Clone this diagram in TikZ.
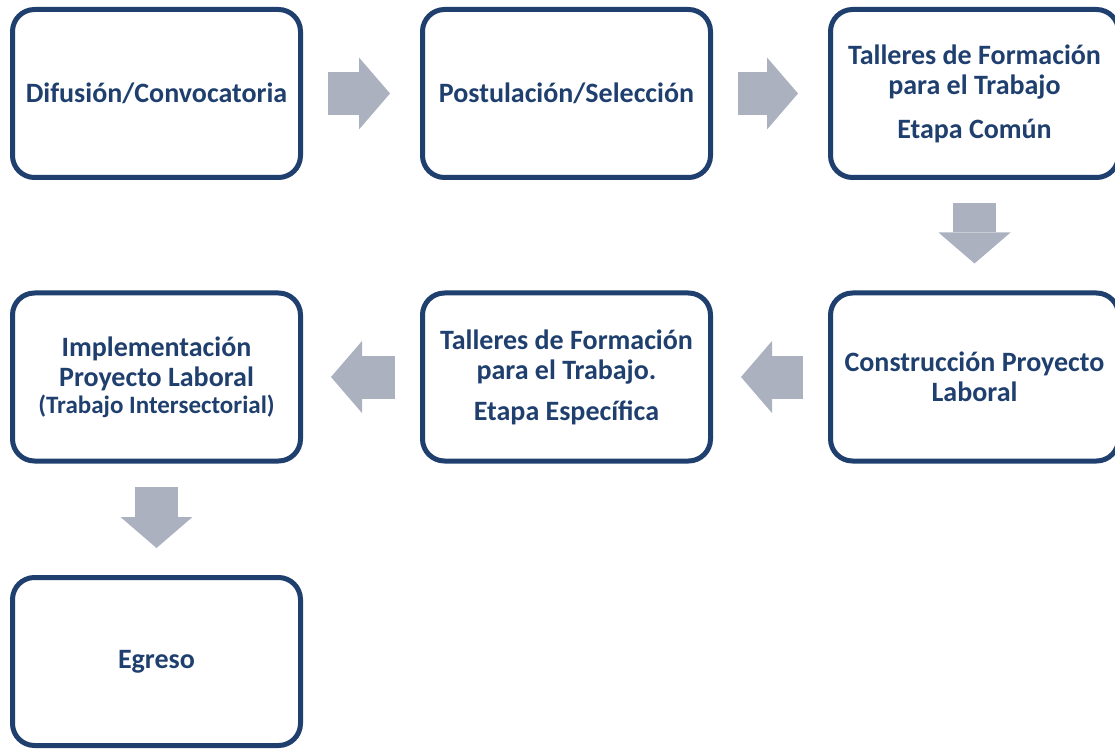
\documentclass[tikz,border=0pt]{standalone}
\usepackage{fontspec}
\setmainfont{Carlito}
\usepackage{xcolor}
\usetikzlibrary{arrows.meta}
\definecolor{azul}{HTML}{1F3F6E}
\definecolor{gris}{HTML}{ABB1BF}

\begin{document}
\begin{tikzpicture}[x=1pt,y=1pt,
   caja/.style={draw=azul,line width=5pt,rounded corners=22pt,fill=white,
     minimum width=288pt,minimum height=168pt,align=center,
     text=azul,font=\fontsize{28}{30}\selectfont\bfseries},
   flecha/.style={draw=gris,line width=43pt,
     -{Triangle[length=31pt,width=72pt,line width=0pt]}}]
   \useasboundingbox (0,0) rectangle (1115,748);
   % fila de arriba
   \node[caja] (difusion) at (156.5,654.5) {Difusión/Convocatoria};
   \node[caja] (postulacion) at (566.5,654.5) {Postulación/Selección};
   \node[caja] (comun) at (974.5,654.5) {Talleres de Formación\\para el Trabajo\\[14pt]Etapa Común};
   % fila del medio
   \node[caja] (construccion) at (974.5,371) {Construcción Proyecto\\Laboral};
   \node[caja] (especifica) at (566.5,371) {Talleres de Formación\\para el Trabajo.\\[11pt]Etapa Específica};
   \node[caja] (implementacion) at (156.5,371) {Implementación\\Proyecto Laboral\\[-3pt]{\fontsize{25}{27}\selectfont(Trabajo Intersectorial)}};
   % egreso
   \node[caja] (egreso) at (156.5,86.5) {Egreso};

   \draw[flecha] ([xshift=25pt]difusion.east) -- ([xshift=-30pt]postulacion.west);
   \draw[flecha] ([xshift=25pt]postulacion.east) -- ([xshift=-30pt]comun.west);
   \draw[flecha] ([yshift=-23pt]comun.south) -- ([yshift=27pt]construccion.north);
   \draw[flecha] ([xshift=-25pt]construccion.west) -- ([xshift=28pt]especifica.east);
   \draw[flecha] ([xshift=-25pt]especifica.west) -- ([xshift=28pt]implementacion.east);
   \draw[flecha] ([yshift=-23pt]implementacion.south) -- ([yshift=27pt]egreso.north);
\end{tikzpicture}
\end{document}
